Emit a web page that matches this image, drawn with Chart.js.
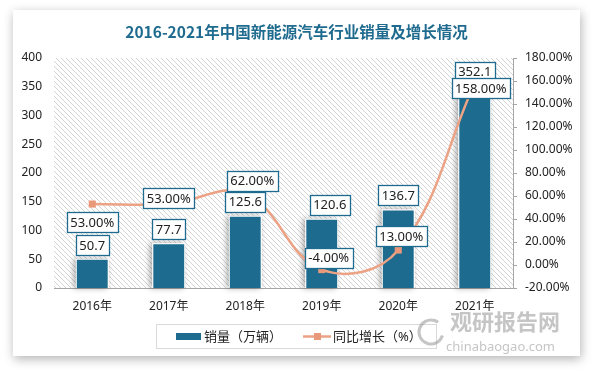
<!DOCTYPE html>
<html>
<head>
<meta charset="utf-8">
<script src="https://cdn.jsdelivr.net/npm/chart.js"></script>
<style>
  html, body { margin: 0; padding: 0; background: #fff; }
  #card {
    position: absolute; left: 13px; top: 10px; width: 567px; height: 346px;
    background: #fff; box-shadow: 1px 3px 10px rgba(0, 0, 0, 0.3);
  }
  canvas { display: block; }
</style>
</head>
<body>
<div id="card"><canvas id="salesChart" width="567" height="346"></canvas></div>
<script>
// 2016-2021 中国新能源汽车销量及增长
const years = ['2016年', '2017年', '2018年', '2019年', '2020年', '2021年'];
const sales = [50.7, 77.7, 125.6, 120.6, 136.7, 352.1];      // 万辆
const growth = [53, 53, 62, -4, 13, 158];                    // %
const salesTicks = [0, 50, 100, 150, 200, 250, 300, 350, 400];
const growthTicks = [-20, 0, 20, 40, 60, 80, 100, 120, 140, 160, 180];

// label nudges (px) so boxes sit where the original put them
const barLabelNudge = [[0, 0], [0, 0], [0, 0], [8, 0], [0, 0], [0, 0]];
const lineLabelNudge = [[0, 18], [0, -6], [7, -13], [7, -12], [3, -14], [6, 5]];

const BLUE = '#1d6b8e';
const ORANGE = '#eca284';
const FONT = "'Noto Sans', 'Noto Sans CJK SC', sans-serif";

// hatched plot background
function hatchPattern(ctx) {
  const c = document.createElement('canvas');
  c.width = 5; c.height = 5;
  const p = c.getContext('2d');
  p.fillStyle = '#fff';
  p.fillRect(0, 0, 5, 5);
  p.strokeStyle = '#d4d4d4';
  p.lineWidth = 1;
  p.beginPath();
  p.moveTo(-1, -1); p.lineTo(6, 6);
  p.moveTo(-1, 4); p.lineTo(1, 6);
  p.moveTo(4, -1); p.lineTo(6, 1);
  p.stroke();
  return ctx.createPattern(c, 'repeat');
}

const plotBackground = {
  id: 'plotBackground',
  beforeDraw(chart) {
    const { ctx, chartArea: a } = chart;
    ctx.save();
    ctx.fillStyle = hatchPattern(ctx);
    ctx.fillRect(a.left, a.top, a.right - a.left, a.bottom - a.top);
    ctx.restore();
  },
  beforeDatasetsDraw(chart) {
    // soft shadow under the bars
    const ctx = chart.ctx;
    const meta = chart.getDatasetMeta(0);
    ctx.save();
    ctx.shadowColor = 'rgba(0,0,0,0.35)';
    ctx.shadowBlur = 6;
    ctx.shadowOffsetX = -2;
    ctx.fillStyle = '#fff';
    meta.data.forEach(bar => {
      ctx.fillRect(bar.x - bar.width / 2, bar.y, bar.width, bar.base - bar.y);
    });
    ctx.restore();
  }
};

function drawBox(ctx, text, cx, cy) {
  const w = Math.round(ctx.measureText(text).width + 7);
  const h = 20;
  const x = Math.round(cx - w / 2) + 0.5;
  const y = Math.round(cy - h / 2) + 0.5;
  ctx.fillStyle = '#fff';
  ctx.fillRect(x, y, w, h);
  ctx.strokeStyle = BLUE;
  ctx.lineWidth = 1.3;
  ctx.strokeRect(x, y, w, h);
  ctx.fillStyle = '#222';
  ctx.fillText(text, cx, cy + 1);
}

const valueLabels = {
  id: 'valueLabels',
  afterDatasetsDraw(chart) {
    const ctx = chart.ctx;
    ctx.save();
    ctx.font = '13px ' + FONT;
    ctx.textAlign = 'center';
    ctx.textBaseline = 'middle';
    chart.getDatasetMeta(0).data.forEach((bar, i) => {
      const [dx, dy] = barLabelNudge[i];
      drawBox(ctx, sales[i].toFixed(1), bar.x + dx, bar.y - 14 + dy);
    });
    chart.getDatasetMeta(1).data.forEach((pt, i) => {
      const [dx, dy] = lineLabelNudge[i];
      drawBox(ctx, growth[i].toFixed(2) + '%', pt.x + dx, pt.y + dy);
    });
    ctx.restore();
  }
};

const decorations = {
  id: 'decorations',
  afterDraw(chart) {
    const ctx = chart.ctx;
    const w = chart.width;
    ctx.save();

    // title
    ctx.fillStyle = '#1f6b8f';
    ctx.font = "bold 15.5px 'Noto Sans CJK SC', sans-serif";
    ctx.textAlign = 'center';
    ctx.textBaseline = 'middle';
    ctx.fillText('2016-2021年中国新能源汽车行业销量及增长情况', w / 2, 22);

    // legend
    ctx.strokeStyle = '#d9d9d9';
    ctx.lineWidth = 1;
    ctx.strokeRect(143.5, 314.5, 280, 24);
    ctx.fillStyle = BLUE;
    ctx.fillRect(163, 323, 25, 7);
    ctx.strokeStyle = ORANGE;
    ctx.lineWidth = 2.5;
    ctx.beginPath();
    ctx.moveTo(290, 326.5); ctx.lineTo(318, 326.5);
    ctx.stroke();
    ctx.fillStyle = '#e9997a';
    ctx.fillRect(301, 323, 7, 7);
    ctx.fillStyle = '#222';
    ctx.font = '13px ' + FONT;
    ctx.textAlign = 'left';
    ctx.fillText('销量（万辆）', 191, 327);
    ctx.fillText('同比增长（%）', 320, 327);

    // watermark
    ctx.globalAlpha = 0.5;
    ctx.fillStyle = '#8c8c8c';
    ctx.font = "bold 22px 'Noto Sans CJK SC', sans-serif";
    ctx.fillText('观研报告网', 437, 312);
    ctx.font = '13px ' + FONT;
    ctx.fillText('chinabaogao.com', 433, 337);
    ctx.lineWidth = 3;
    ctx.strokeStyle = '#8c8c8c';
    ctx.beginPath();
    ctx.arc(418, 322, 12, 0.3, Math.PI * 1.7);
    ctx.stroke();
    ctx.restore();
  }
};

new Chart(document.getElementById('salesChart'), {
  data: {
    labels: years,
    datasets: [
      {
        type: 'bar',
        label: '销量（万辆）',
        data: sales,
        yAxisID: 'y',
        backgroundColor: BLUE,
        borderColor: '#fff',
        borderWidth: 1,
        barPercentage: 0.43,
        categoryPercentage: 1,
        order: 2
      },
      {
        type: 'line',
        label: '同比增长（%）',
        data: growth,
        yAxisID: 'y1',
        borderColor: ORANGE,
        borderWidth: 2.5,
        tension: 0.4,
        pointStyle: 'rect',
        pointRadius: 5,
        pointBorderWidth: 0,
        pointBackgroundColor: '#e9997a',
        order: 1
      }
    ]
  },
  options: {
    responsive: false,
    animation: false,
    layout: { padding: { top: 48, left: 0, right: 0, bottom: 38 } },
    plugins: {
      legend: { display: false },
      title: { display: false },
      tooltip: { enabled: false }
    },
    scales: {
      x: {
        grid: { display: false, drawTicks: false },
        border: { display: true, color: '#a6a6a6', width: 1 },
        ticks: { color: '#222', padding: 11, font: { size: 12, family: FONT } },
        afterFit: s => { s.height = 30; }
      },
      y: {
        position: 'left',
        min: salesTicks[0],
        max: salesTicks[salesTicks.length - 1],
        ticks: { stepSize: salesTicks[1] - salesTicks[0], color: '#222', padding: 12, font: { size: 12, family: FONT } },
        grid: { display: false, drawTicks: false },
        border: { display: false },
        afterFit: s => { s.width = 41; }
      },
      y1: {
        position: 'right',
        min: growthTicks[0],
        max: growthTicks[growthTicks.length - 1],
        ticks: {
          stepSize: growthTicks[1] - growthTicks[0],
          color: '#222',
          padding: 8,
          font: { size: 12, family: FONT },
          callback: v => v.toFixed(2) + '%'
        },
        grid: { drawOnChartArea: false, drawTicks: true, tickLength: 4, color: '#a6a6a6' },
        border: { display: true, color: '#a6a6a6', width: 1 },
        afterFit: s => { s.width = 67; }
      }
    }
  },
  plugins: [plotBackground, valueLabels, decorations]
});
</script>
</body>
</html>
